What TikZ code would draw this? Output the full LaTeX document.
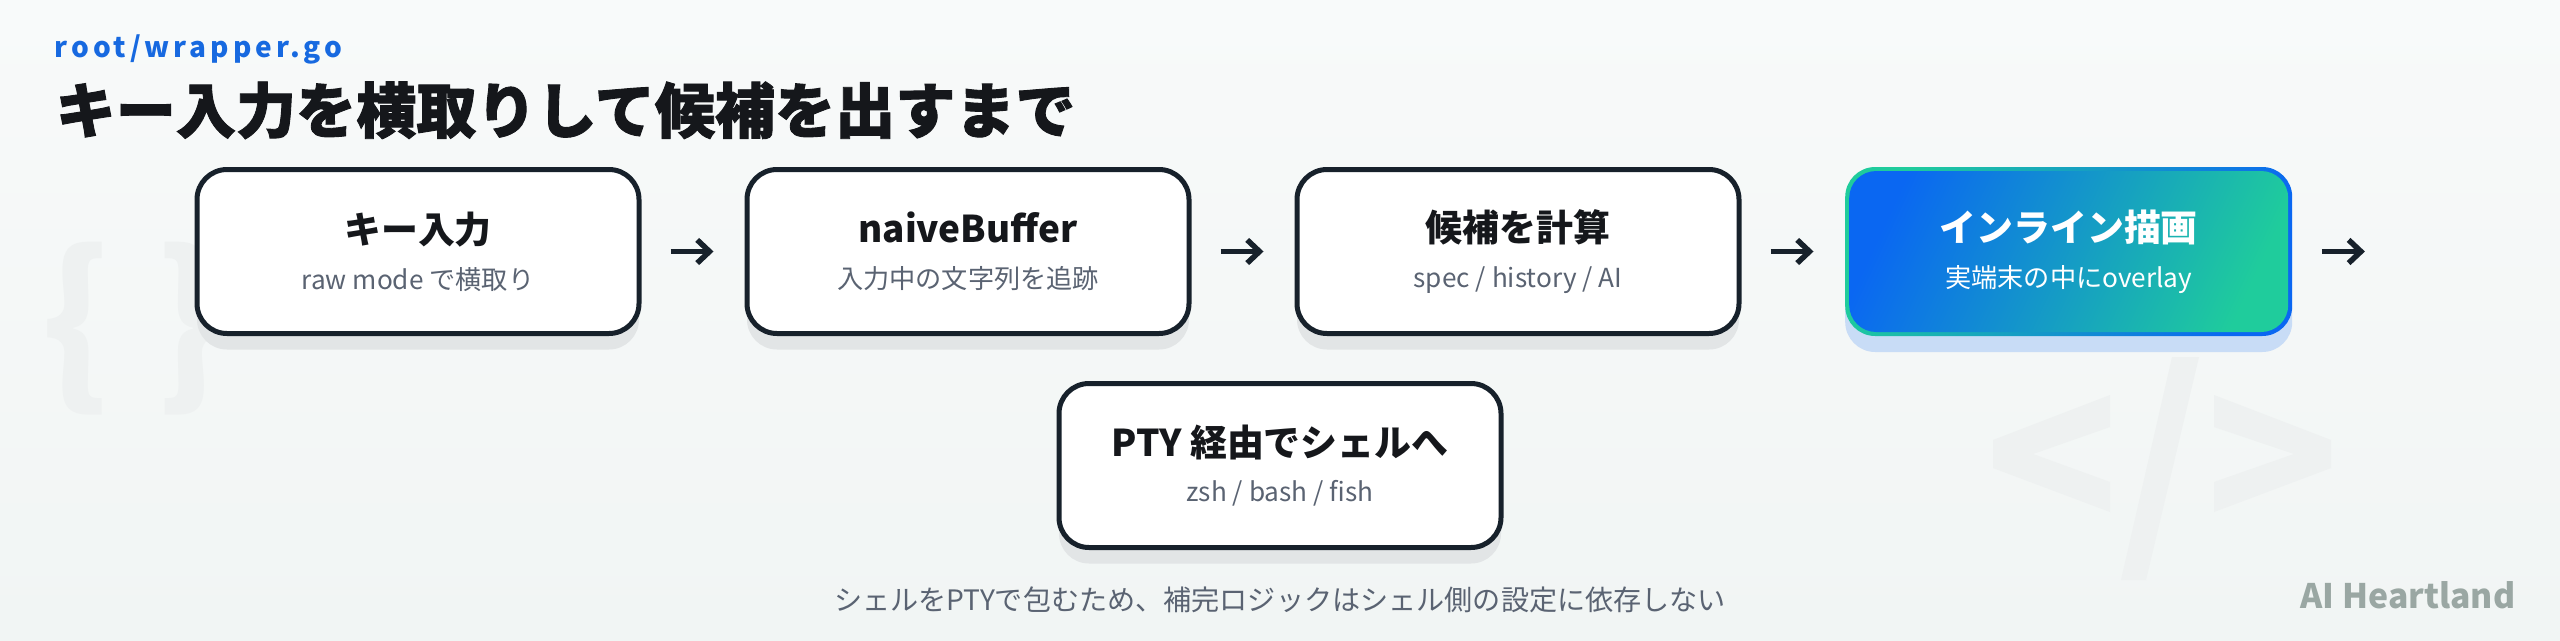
\documentclass[tikz,border=0pt]{standalone}
\usepackage{fontspec}
\setmainfont{Noto Sans CJK JP}
\newfontfamily\heavyfont{Noto Sans CJK JP}[BoldFeatures={FakeBold=1.5}]
\newfontfamily\tagfont{Noto Sans CJK JP}[LetterSpace=14]
\usepackage{tikz}
\usetikzlibrary{arrows.meta, positioning, shadows}

\definecolor{navy}{HTML}{17212B}
\definecolor{inkblack}{HTML}{15171B}
\definecolor{subgray}{HTML}{5A6372}
\definecolor{tagblue}{HTML}{1769E0}
\definecolor{bgtop}{HTML}{F8FAFA}
\definecolor{bgbot}{HTML}{F1F5F4}
\definecolor{shadowgray}{HTML}{E2E5E6}
\definecolor{hlblue}{HTML}{0A67F2}
\definecolor{hlteal}{HTML}{1FCC9C}
\definecolor{hlshadow}{HTML}{C8DCF6}
\definecolor{brandgray}{HTML}{9AA7A3}
\definecolor{wmark}{HTML}{EEF1F1}

\newcommand{\boxhead}[1]{{\bfseries #1}}
\newcommand{\boxsub}[1]{{\fontsize{7.45pt}{13.4pt}\selectfont\color{subgray}#1}}

\begin{document}
\begin{tikzpicture}[
  node distance = 0.49cm and 1.03cm,
  st/.style = {
    draw=navy, line width=0.05cm, fill=white, rounded corners=0.3cm,
    minimum width=4.42cm, minimum height=1.64cm,
    align=center, text=inkblack, font=\fontsize{10.5pt}{13pt}\selectfont,
    drop shadow={shadow xshift=0cm, shadow yshift=-0.16cm, fill=shadowgray, opacity=1}
  },
  hl/.style = {
    rounded corners=0.3cm, minimum width=4.47cm, minimum height=1.69cm,
    align=center, text=white, font=\fontsize{10.5pt}{13pt}\selectfont,
    left color=hlteal, right color=hlblue, shading angle=65,
    drop shadow={shadow xshift=0cm, shadow yshift=-0.16cm, fill=hlshadow, opacity=1},
    path picture={
      \shade[left color=hlblue, right color=hlteal, shading angle=65, rounded corners=0.27cm]
        ([shift={(0.04,0.04)}]path picture bounding box.south west) rectangle
        ([shift={(-0.04,-0.04)}]path picture bounding box.north east);
    }
  },
  arr/.style = {
    -{Straight Barb[length=3.5pt, width=6.6pt]}, line width=0.055cm, draw=navy,
    shorten <=0.29cm, shorten >=0.31cm
  }
]

% background and watermarks
\shade[top color=bgtop, bottom color=bgbot] (0,0) rectangle (25.6,6.4);
\useasboundingbox (0,0) rectangle (25.6,6.4);
\node[text=wmark, font=\fontsize{50pt}{50pt}\selectfont\bfseries] (braces) at (1.34,3.11) {\{\hspace{0.25em}\}};
\fill[wmark] (21.10,2.45) -- (19.93,2.00) -- (19.93,1.72) -- (21.10,1.28) -- (21.10,1.58) -- (20.33,1.86) -- (21.10,2.13) -- cycle;
\fill[wmark] (22.14,2.45) -- (23.31,2.00) -- (23.31,1.72) -- (22.14,1.28) -- (22.14,1.58) -- (22.94,1.86) -- (22.14,2.13) -- cycle;
\fill[wmark] (21.72,2.83) -- (21.99,2.83) -- (21.46,0.60) -- (21.21,0.60) -- cycle;

% heading
\node[anchor=base west, inner sep=0pt, text=tagblue, font=\tagfont\fontsize{7.97pt}{9pt}\selectfont\bfseries] (tag) at (0.54,5.825) {root/wrapper.go};
\node[anchor=base west, inner sep=0pt, text=inkblack, font=\heavyfont\fontsize{17.1pt}{20pt}\selectfont\bfseries] (title) at (0.55,5.07) {キー入力を横取りして候補を出すまで};

% pipeline
\node[st] (keyin) at (4.18,3.885) {\boxhead{キー入力}\\\boxsub{raw mode で横取り}};
\node[st, right=of keyin] (naive) {\boxhead{naiveBuffer}\\\boxsub{入力中の文字列を追跡}};
\node[st, right=of naive] (cand) {\boxhead{候補を計算}\\\boxsub{spec / history / AI}};
\node[hl, right=of cand] (inline) {\boxhead{インライン描画}\\{\fontsize{7.45pt}{13.4pt}\selectfont 実端末の中にoverlay}};
\coordinate[right=of inline] (out);
\node[st] (pty) at (12.8,1.745) {\boxhead{PTY 経由でシェルへ}\\\boxsub{zsh / bash / fish}};

\draw[arr] (keyin) -- (naive);
\draw[arr] (naive) -- (cand);
\draw[arr] (cand) -- (inline);
\draw[arr] (inline) -- (out);

% footer
\node[anchor=base, inner sep=0pt, text=subgray, font=\fontsize{8pt}{9pt}\selectfont] (note) at (12.8,0.30) {シェルをPTYで包むため、補完ロジックはシェル側の設定に依存しない};
\node[anchor=base east, inner sep=0pt, text=brandgray, font=\fontsize{9.6pt}{10pt}\selectfont\bfseries] (brand) at (25.16,0.32) {AI Heartland};

\end{tikzpicture}
\end{document}
